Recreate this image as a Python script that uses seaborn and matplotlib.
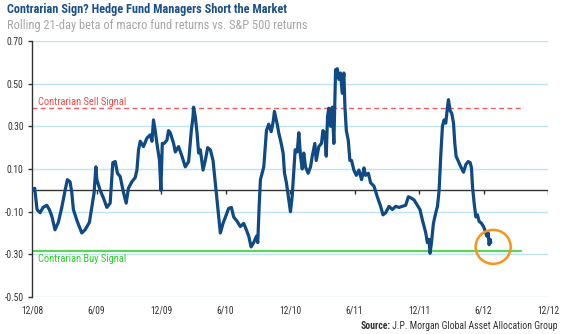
import matplotlib
matplotlib.use("Agg")
import matplotlib.pyplot as plt
from matplotlib import font_manager as fm
from matplotlib.patches import Ellipse
import seaborn as sns
import pandas as pd

# ---- data (months since Dec 2008, rolling beta) ----
months = [0.07, 0.25, 0.47, 0.75, 1.03, 1.37, 1.61, 1.84, 2.14, 2.45, 2.77, 3.08, 3.29, 3.54, 3.70, 3.85,
          4.17, 4.63, 4.94, 5.34, 5.56, 5.78, 5.94, 6.03, 6.34, 6.64, 6.96, 7.27, 7.52, 7.74, 7.95, 8.20,
          8.51, 8.76, 8.97, 9.29, 9.60, 9.76, 9.91, 10.07, 10.37, 10.69, 11.00, 11.16, 11.30, 11.46, 11.62,
          11.86, 11.99, 12.12, 12.30, 12.55, 12.70, 12.86, 13.17, 13.33, 13.63, 13.95, 14.26, 14.57, 14.82,
          14.98, 15.03, 15.19, 15.35, 15.50, 15.66, 15.91, 16.12, 16.34, 16.59, 16.84, 17.05, 17.21, 17.36,
          17.52, 17.77, 17.99, 18.29, 18.55, 18.76, 19.08, 19.38, 19.69, 19.94, 20.16, 20.38, 20.62, 20.88,
          21.00, 21.13, 21.25, 21.56, 21.81, 22.02, 22.25, 22.43, 22.55, 22.81, 22.95, 23.18, 23.36, 23.49,
          23.67, 23.89, 24.04, 24.20, 24.35, 24.48, 24.67, 24.82, 24.98, 25.14, 25.28, 25.44, 25.69, 25.91,
          26.07, 26.31, 26.44, 26.68, 26.93, 27.06, 27.24, 27.37, 27.49, 27.61, 27.77, 27.93, 28.08, 28.24,
          28.40, 28.55, 28.70, 28.86, 29.01, 29.11, 29.24, 29.42, 29.57, 29.73, 29.94, 30.17, 30.41, 30.66,
          30.88, 31.03, 31.29, 31.50, 31.81, 32.12, 32.43, 32.65, 32.90, 33.21, 33.52, 33.83, 34.14, 34.46,
          34.76, 35.01, 35.23, 35.54, 35.85, 36.09, 36.32, 36.63, 36.78, 36.93, 37.03, 37.16, 37.34, 37.56,
          37.72, 37.87, 38.02, 38.18, 38.33, 38.49, 38.65, 38.74, 38.89, 39.05, 39.21, 39.33, 39.45, 39.67,
          39.89, 40.14, 40.35, 40.57, 40.76, 40.88, 40.98, 41.13, 41.29, 41.44, 41.59, 41.82, 42.00, 42.12,
          42.31, 42.43, 42.52, 42.62, 42.68]
beta = [0.00, 0.01, -0.09, -0.105, -0.08, -0.07, -0.09, -0.12, -0.185, -0.15, -0.08, 0.00, 0.05, 0.04, -0.01, -0.09,
        -0.14, -0.20, -0.185, -0.15, -0.08, -0.01, 0.11, 0.05, 0.00, -0.035, -0.08, -0.06, 0.13, 0.135, 0.08, 0.065,
        -0.01, -0.06, 0.01, 0.04, 0.06, 0.095, 0.19, 0.23, 0.205, 0.245, 0.26, 0.23, 0.33, 0.28, 0.22,
        0.14, 0.00, 0.22, 0.22, 0.235, 0.28, 0.27, 0.22, 0.18, 0.205, 0.16, 0.11, 0.135, 0.28,
        0.345, 0.39, 0.345, 0.27, 0.175, 0.19, 0.095, 0.14, 0.20, 0.19, 0.14, 0.035, -0.045, -0.125,
        -0.20, -0.155, -0.125, -0.085, -0.08, -0.125, -0.145, -0.17, -0.155, -0.185, -0.215, -0.265, -0.245, -0.215,
        -0.245, -0.075, 0.05, 0.11, 0.28, 0.31, 0.275, 0.32, 0.37, 0.31, 0.27, 0.22, 0.175, 0.08,
        0.035, -0.045, -0.10, -0.03, 0.09, 0.19, 0.18, 0.27, 0.16, 0.10, 0.175, 0.11, 0.08, 0.11,
        0.16, 0.22, 0.14, 0.205, 0.22, 0.28, 0.27, 0.16, 0.345, 0.385, 0.30, 0.39, 0.22, 0.565,
        0.57, 0.52, 0.55, 0.455, 0.55, 0.39, 0.28, 0.235, 0.14, 0.14, 0.095, 0.07, 0.095, 0.05,
        0.105, 0.07, 0.08, 0.035, 0.02, -0.03, -0.075, -0.115, -0.105, -0.075, -0.09, -0.075, -0.08, -0.075,
        -0.07, -0.03, -0.035, -0.045, -0.07, -0.09, -0.14, -0.20, -0.245, -0.23, -0.295, -0.245, -0.155, -0.105,
        -0.075, 0.00, 0.16, 0.30, 0.33, 0.315, 0.39, 0.425, 0.375, 0.36, 0.315, 0.22, 0.16, 0.135,
        0.11, 0.085, 0.12, 0.135, 0.13, 0.105, 0.015, -0.06, -0.125, -0.115, -0.145, -0.155, -0.17, -0.185,
        -0.215, -0.20, -0.255, -0.23, -0.245]

tick_months = [0, 6, 12, 18, 24, 30, 36, 42, 48]
tick_labels = ["12/08", "6/09", "12/09", "6/10", "12/10", "6/11", "12/11", "6/12", "12/12"]
y_ticks = [0.70, 0.50, 0.30, 0.10, -0.10, -0.30, -0.50]
sell_signal = 0.388
buy_signal = -0.283
signal_end = 45.5
circle_center = (42.9, -0.265)

title = "Contrarian Sign? Hedge Fund Managers Short the Market"
subtitle = "Rolling 21-day beta of macro fund returns vs. S&P 500 returns"
source_bold = "Source:"
source_rest = " J.P. Morgan Global Asset Allocation Group"
sell_label = "Contrarian Sell Signal"
buy_label = "Contrarian Buy Signal"

# ---- font choice: prefer a condensed sans ----
sns.set_style("white")
names = {f.name for f in fm.fontManager.ttflist}
fam, stretch = None, "normal"
for cand in ["Liberation Sans Narrow", "Roboto Condensed", "Open Sans Condensed",
             "DejaVu Sans Condensed", "Noto Sans Condensed", "Arial Narrow"]:
    if cand in names:
        fam = cand
        break
if fam is None:
    for f in fm.fontManager.ttflist:
        st = str(f.stretch)
        if st in ("condensed", "semi-condensed", "extra-condensed") and f.name in (
                "Noto Sans", "DejaVu Sans", "Roboto", "Open Sans", "Liberation Sans"):
            fam, stretch = f.name, st
            break
if fam is None:
    fam = "Liberation Sans"
plt.rcParams["font.family"] = [fam, "DejaVu Sans"]
plt.rcParams["font.stretch"] = stretch

df = pd.DataFrame({"month": months, "beta": beta})

fig = plt.figure(figsize=(5.65, 3.34), dpi=100)
renderer = fig.canvas.get_renderer()


def fit_size(s, target_px, weight="normal", base=10.0, cap=None):
    t = fig.text(0, 0, s, fontsize=base, fontweight=weight)
    w = t.get_window_extent(renderer).width
    t.remove()
    size = base * target_px / w
    if cap is not None:
        size = min(size, cap)
    return size


ax = fig.add_axes([32 / 565, 1 - 297 / 334, (548 - 32) / 565, 256 / 334])

for yv in y_ticks:
    ax.axhline(yv, color="#bfe3ef", lw=1.0, zorder=0)

ax.axhline(0, color="#333333", lw=1.0, zorder=1)
ax.vlines(tick_months[1:], -0.018, 0, color="#333333", lw=1.0, zorder=1)

ax.plot([0, signal_end], [sell_signal, sell_signal], color="#f25c5c", lw=1.0,
        ls=(0, (3.5, 2.5)), zorder=2)
ax.plot([0, signal_end], [buy_signal, buy_signal], color="#5ad65a", lw=1.6, zorder=2)

sns.lineplot(data=df, x="month", y="beta", ax=ax, color="#0f4a85", lw=2.3,
             sort=False, estimator=None, zorder=3)

ax.add_patch(Ellipse(circle_center, width=35 / 10.73, height=34 / 213.5, fill=False,
                     edgecolor="#f7941d", lw=1.8, zorder=4))

lab_size = fit_size(sell_label, 89, cap=9.5)
ax.text(0.55, 0.416, sell_label, color="#f04a4a", fontsize=lab_size, va="center", ha="left")
ax.text(0.55, -0.32, buy_label, color="#2ecc2e", fontsize=lab_size, va="center", ha="left")

tick_size_y = fit_size("-0.50", 19, cap=8.5)
tick_size_x = fit_size("12/08", 22, cap=9)

ax.set_xlim(0, 48)
ax.set_ylim(-0.5, 0.7)
ax.set_xlabel("")
ax.set_ylabel("")
ax.set_xticks(tick_months)
ax.set_xticklabels(tick_labels)
ax.set_yticks(y_ticks)
ax.set_yticklabels([f"{v:.2f}" for v in y_ticks])
ax.tick_params(axis="x", length=0, pad=6, labelsize=tick_size_x, labelcolor="#333333")
ax.tick_params(axis="y", length=3, width=1.0, color="#333333", pad=3,
               labelsize=tick_size_y, labelcolor="#333333", left=True)
for s in ["top", "right", "bottom"]:
    ax.spines[s].set_visible(False)
ax.spines["left"].set_color("#333333")
ax.spines["left"].set_linewidth(1.0)

title_size = fit_size(title, 281, weight="bold", cap=12)
sub_size = fit_size(subtitle, 298, cap=11)
fig.text(7 / 565, 1 - 10 / 334, title, fontsize=title_size, fontweight="bold", color="#1b4f8c",
         ha="left", va="center")
fig.text(7 / 565, 1 - 25 / 334, subtitle, fontsize=sub_size, color="#a6a6a6",
         ha="left", va="center")

src_size = fit_size(source_bold + source_rest, 196, cap=9)
t_src = fig.text(558 / 565, 1 - 326 / 334, source_rest, fontsize=src_size, color="#333333",
                 ha="right", va="center")
bb = t_src.get_window_extent(renderer)
fig.text(bb.x0 / fig.bbox.width, 1 - 326 / 334, source_bold, fontsize=src_size,
         fontweight="bold", color="#333333", ha="right", va="center")

fig.savefig("out.png", dpi=100)
